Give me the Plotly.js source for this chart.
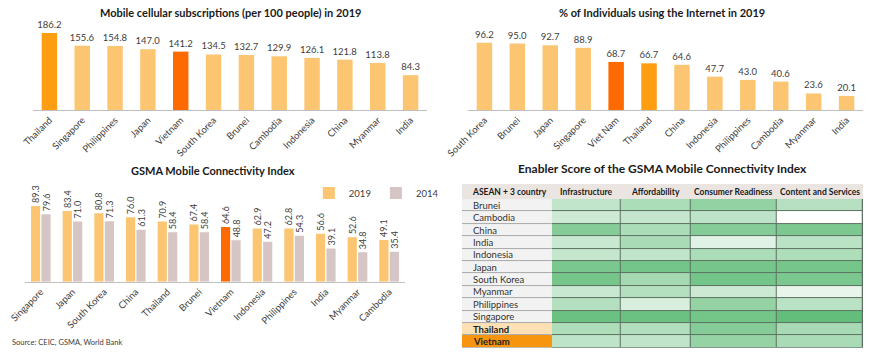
<!DOCTYPE html>
<html>
<head>
<meta charset="utf-8">
<script src="https://cdn.plot.ly/plotly-3.0.1.min.js"></script>
<style>html,body{margin:0;padding:0;background:#fff;}#chart{width:870px;height:352px;}</style>
</head>
<body>
<div id="chart"></div>
<script>
// ---------- Data ----------
const mobileCountries = ['Thailand','Singapore','Philippines','Japan','Vietnam','South Korea','Brunei','Cambodia','Indonesia','China','Myanmar','India'];
const mobileValues = [186.2,155.6,154.8,147.0,141.2,134.5,132.7,129.9,126.1,121.8,113.8,84.3];

const internetCountries = ['South Korea','Brunei','Japan','Singapore','Viet Nam','Thailand','China','Indonesia','Philippines','Cambodia','Myanmar','India'];
const internetValues = [96.2,95.0,92.7,88.9,68.7,66.7,64.6,47.7,43.0,40.6,23.6,20.1];

const gsmaCountries = ['Singapore','Japan','South Korea','China','Thailand','Brunei','Vietnam','Indonesia','Philippines','India','Myanmar','Cambodia'];
const gsma2019 = [89.3,83.4,80.8,76.0,70.9,67.4,64.6,62.9,62.8,56.6,52.6,49.1];
const gsma2014 = [79.6,71.0,71.3,61.3,58.4,58.4,48.8,47.2,54.3,39.1,34.8,35.4];

const enablerHeaders = ['ASEAN + 3 country','Infrastructure','Affordability','Consumer Readiness','Content and Services'];
const enablerCountries = ['Brunei','Cambodia','China','India','Indonesia','Japan','South Korea','Myanmar','Philippines','Singapore','Thailand','Vietnam'];
// relative shade (0 = lowest, 100 = highest)
const infrastructure = [40,32,78,35,38,85,88,35,48,95,52,42];
const affordability  = [53,38,53,55,40,89,58,48,25,95,50,41];
const consumerReadiness = [70,42,78,20,53,88,89,33,68,90,78,68];
const contentServices = [47,0,84,44,52,88,85,15,44,100,56,55];

// ---------- Styles ----------
const FONT = 'Lato, "Open Sans", sans-serif';
const TXT = '#404040';
const LIGHT = '#fbc572', THAI = '#fd9e10', VN = '#ff6a00', GREY14 = '#d5c6c5';

function barColor(name){
  if (name === 'Thailand') return THAI;
  if (name === 'Vietnam' || name === 'Viet Nam') return VN;
  return LIGHT;
}
function gsmaColor(name){ return (name === 'Vietnam') ? VN : LIGHT; }
function countryCode(name){ return name === 'Thailand' ? 1 : (name === 'Vietnam' ? 2 : 0); }

// table geometry (units on the table's own x axis)
const countryColW = 89.7;
const scoreColW = [69.3, 69.3, 86.4, 86.3];
const colEdges = [0];
scoreColW.forEach(w => colEdges.push(colEdges[colEdges.length-1] + w));
const tableRight = colEdges[colEdges.length-1];
const rowEdges = enablerCountries.map((_, i) => i).concat([enablerCountries.length]);
const headerH = 15/12.37;

const zScores = enablerCountries.map((_, i) => [infrastructure[i], affordability[i], consumerReadiness[i], contentServices[i]]);
const zCountry = enablerCountries.map(c => [countryCode(c)]);

const traces = [
  {type:'bar', x:mobileCountries, y:mobileValues, xaxis:'x', yaxis:'y', width:0.47,
   marker:{color:mobileCountries.map(barColor)}, texttemplate:'%{y:.1f}', textposition:'outside', constraintext:'none',
   textfont:{family:FONT, size:9.5, color:TXT}, cliponaxis:false, showlegend:false, hoverinfo:'skip'},
  {type:'bar', x:internetCountries, y:internetValues, xaxis:'x2', yaxis:'y2', width:0.47,
   marker:{color:internetCountries.map(barColor)}, texttemplate:'%{y:.1f}', textposition:'outside', constraintext:'none',
   textfont:{family:FONT, size:9.5, color:TXT}, cliponaxis:false, showlegend:false, hoverinfo:'skip'},
  {type:'bar', name:'2019', x:gsmaCountries, y:gsma2019, xaxis:'x3', yaxis:'y3',
   marker:{color:gsmaCountries.map(gsmaColor)}, texttemplate:'%{y:.1f}', textposition:'outside', textangle:-90, constraintext:'none',
   textfont:{family:FONT, size:9, color:TXT}, cliponaxis:false, hoverinfo:'skip'},
  {type:'bar', name:'2014', x:gsmaCountries, y:gsma2014, xaxis:'x3', yaxis:'y3',
   marker:{color:GREY14}, texttemplate:'%{y:.1f}', textposition:'outside', textangle:-90, constraintext:'none',
   textfont:{family:FONT, size:9, color:TXT}, cliponaxis:false, hoverinfo:'skip'},
  {type:'heatmap', x:colEdges, y:rowEdges, z:zScores, xaxis:'x4', yaxis:'y4',
   colorscale:[[0,'#ffffff'],[1,'#63be7b']], zmin:0, zmax:100, showscale:false, xgap:1, ygap:1, hoverinfo:'skip', showlegend:false},
  {type:'heatmap', x:[-countryColW, 0], y:rowEdges, z:zCountry, xaxis:'x4', yaxis:'y4',
   colorscale:[[0,'#f2f2f2'],[0.33,'#f2f2f2'],[0.34,'#fde0b3'],[0.66,'#fde0b3'],[0.67,'#f7950e'],[1,'#f7950e']],
   zmin:0, zmax:2, showscale:false, xgap:0, ygap:1, hoverinfo:'skip', showlegend:false}
];

function xax(domain, anchor){
  return {domain:domain, anchor:anchor, type:'category', tickangle:-45, showline:true, linecolor:'#bfbfbf', linewidth:1,
    ticks:'', showgrid:false, zeroline:false, tickfont:{family:FONT, size:9.5, color:TXT}, fixedrange:true};
}
function yax(domain, anchor, maxv){
  return {domain:domain, anchor:anchor, range:[0,maxv], visible:false, showgrid:false, zeroline:false, fixedrange:true};
}
function title(text, x, y, size){
  return {text:'<b>'+text+'</b>', x:x, y:y, xref:'paper', yref:'paper', xanchor:'center', yanchor:'middle',
    showarrow:false, font:{family:FONT, size:size, color:'#1a1a1a'}};
}

const annotations = [
  title('Mobile cellular subscriptions (per 100 people) in 2019', 0.2644, 0.9659, 11),
  title('% of Individuals using the Internet in 2019', 0.7606, 0.9659, 11),
  title('GSMA Mobile Connectivity Index', 0.2448, 0.517, 11),
  title('Enabler Score of the GSMA Mobile Connectivity Index', 0.7617, 0.5199, 12),
  {text:'Source: CEIC, GSMA, World Bank', x:0.0115, y:0.0264, xref:'paper', yref:'paper', xanchor:'left', yanchor:'middle',
   showarrow:false, font:{family:FONT, size:7.5, color:TXT}}
];
// table header texts
annotations.push({text:'<b>'+enablerHeaders[0]+'</b>', x:-countryColW, y:-headerH/2, xref:'x4', yref:'y4', xanchor:'left', xshift:8,
  yanchor:'middle', showarrow:false, font:{family:FONT, size:8.5, color:'#1a1a1a'}});
enablerHeaders.slice(1).forEach((h, j) => {
  annotations.push({text:'<b>'+h+'</b>', x:(colEdges[j]+colEdges[j+1])/2, y:-headerH/2, xref:'x4', yref:'y4',
    xanchor:'center', yanchor:'middle', showarrow:false, font:{family:FONT, size:8.5, color:'#1a1a1a'}});
});
// country names
enablerCountries.forEach((c, i) => {
  const strong = (c === 'Thailand' || c === 'Vietnam');
  annotations.push({text: strong ? '<b>'+c+'</b>' : c, x:-countryColW, y:i+0.5, xref:'x4', yref:'y4', xanchor:'left', xshift:9,
    yanchor:'middle', showarrow:false, font:{family:FONT, size:9.5, color: strong ? '#222' : '#333'}});
});

const shapes = [
  {type:'rect', xref:'x4', yref:'y4', x0:-countryColW, x1:tableRight, y0:-headerH, y1:0, fillcolor:'#ebe5e2', line:{width:0}, layer:'below'},
  {type:'rect', xref:'x4', yref:'y4', x0:0, x1:tableRight, y0:0, y1:enablerCountries.length, fillcolor:'#5d7262', line:{width:0}, layer:'below'},
  {type:'rect', xref:'x4', yref:'y4', x0:-countryColW, x1:0, y0:0, y1:enablerCountries.length, fillcolor:'#a9a9a9', line:{width:0}, layer:'below'}
];

const layout = {
  width:870, height:352, margin:{l:0,r:0,t:0,b:0}, paper_bgcolor:'#fff', plot_bgcolor:'#fff',
  font:{family:FONT, color:TXT},
  barmode:'group', bargap:0.34, bargroupgap:0.12,
  xaxis: xax([0.0379,0.4908],'y'),
  yaxis: yax([0.6875,0.9375],'x',212.8),
  xaxis2: xax([0.5379,0.992],'y2'),
  yaxis2: yax([0.6875,0.9375],'x2',125.8),
  xaxis3: xax([0.0287,0.4655],'y3'),
  yaxis3: yax([0.1997,0.4886],'x3',120),
  xaxis4: {domain:[0.531,0.992], anchor:'y4', range:[-countryColW, tableRight], visible:false, fixedrange:true},
  yaxis4: {domain:[0.0114,0.4773], anchor:'x4', range:[enablerCountries.length+0.02, -headerH], visible:false, fixedrange:true},
  showlegend:true,
  legend:{orientation:'h', x:0.355, y:0.452, xanchor:'left', yanchor:'middle', font:{family:FONT, size:9.5, color:TXT},
    bgcolor:'rgba(0,0,0,0)', itemwidth:30, traceorder:'normal'},
  shapes:shapes,
  annotations:annotations
};

Plotly.newPlot('chart', traces, layout, {staticPlot:true, displayModeBar:false});
</script>
</body>
</html>
